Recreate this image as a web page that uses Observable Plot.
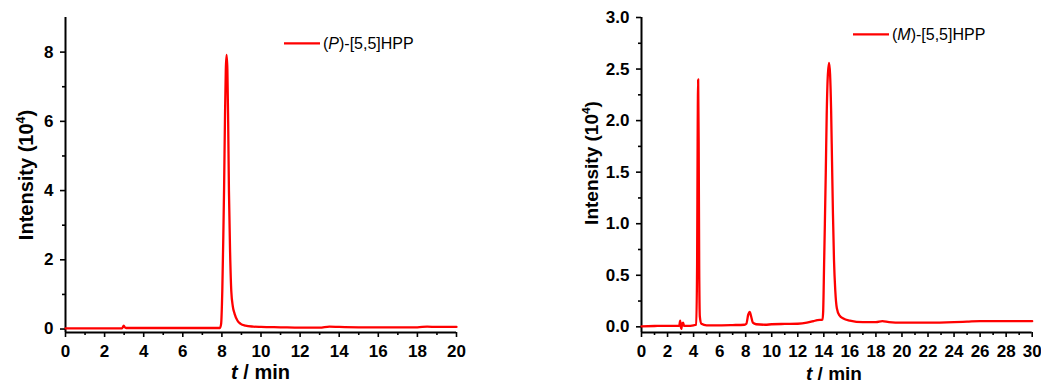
<!DOCTYPE html>
<html>
<head>
<meta charset="utf-8">
<script src="https://cdn.jsdelivr.net/npm/d3@7"></script>
<script src="https://cdn.jsdelivr.net/npm/@observablehq/plot@0.6"></script>
<style>
  body { margin: 0; background: #fff; }
  #wrap { position: relative; width: 1041px; height: 383px; }
  #wrap svg { position: absolute; top: 0; }
</style>
</head>
<body>
<div id="wrap"></div>
<script>
// (P)-[5,5]HPP chromatogram: retention time (min) and intensity (10^4)
const pTime = [0, 1, 2, 2.9, 2.98, 3.03, 3.1, 4, 5, 6, 7, 7.9, 7.96, 8.02, 8.07, 8.11, 8.16, 8.2, 8.24, 8.28, 8.32, 8.36, 8.42, 8.48, 8.56, 8.65, 8.8, 8.96, 9.2, 9.6, 10, 11, 12, 13, 13.5, 14, 15, 16, 17, 18, 18.5, 19, 20];
const pIntensity = [0.02, 0.02, 0.02, 0.02, 0.1, 0.05, 0.03, 0.03, 0.03, 0.03, 0.03, 0.03, 0.15, 1.1, 2.6, 4.0, 6.2, 7.5, 7.92, 7.5, 6.0, 4.0, 2.2, 1.1, 0.65, 0.44, 0.24, 0.15, 0.1, 0.07, 0.06, 0.05, 0.04, 0.04, 0.07, 0.06, 0.05, 0.05, 0.05, 0.05, 0.07, 0.06, 0.06];

// (M)-[5,5]HPP chromatogram
const mTime = [0, 1, 2, 2.9, 2.97, 3.02, 3.06, 3.12, 3.2, 3.26, 3.5, 4, 4.2, 4.27, 4.31, 4.35, 4.39, 4.43, 4.48, 4.6, 5, 6, 7, 7.9, 8.05, 8.2, 8.31, 8.42, 8.55, 8.8, 9.5, 10, 11, 12, 12.7, 13.2, 13.5, 13.9, 13.95, 14.02, 14.08, 14.15, 14.22, 14.3, 14.4, 14.48, 14.56, 14.63, 14.7, 14.78, 14.88, 15, 15.2, 15.5, 16, 17, 18, 18.5, 19, 20, 22, 24, 25, 26, 28, 30];
const mIntensity = [0.005, 0.008, 0.01, 0.01, 0.06, 0.0, -0.02, 0.03, 0.04, 0.01, 0.01, 0.015, 0.02, 0.6, 1.8, 2.40, 1.8, 0.6, 0.1, 0.03, 0.015, 0.015, 0.017, 0.02, 0.03, 0.12, 0.145, 0.1, 0.04, 0.025, 0.02, 0.025, 0.028, 0.03, 0.04, 0.055, 0.065, 0.07, 0.15, 0.6, 1.0, 1.5, 2.05, 2.42, 2.56, 2.45, 2.1, 1.6, 1.1, 0.65, 0.35, 0.18, 0.11, 0.08, 0.06, 0.045, 0.045, 0.055, 0.045, 0.04, 0.04, 0.045, 0.05, 0.055, 0.055, 0.055];

// Axis ticks
const pXTicks = [0, 2, 4, 6, 8, 10, 12, 14, 16, 18, 20];
const pXMinor = [1, 3, 5, 7, 9, 11, 13, 15, 17, 19];
const pYTicks = [0, 2, 4, 6, 8];
const pYMinor = [1, 3, 5, 7];
const mXTicks = [0, 2, 4, 6, 8, 10, 12, 14, 16, 18, 20, 22, 24, 26, 28, 30];
const mXMinor = [1, 3, 5, 7, 9, 11, 13, 15, 17, 19, 21, 23, 25, 27, 29];
const mYTicks = [0, 0.5, 1.0, 1.5, 2.0, 2.5, 3.0];
const mYMinor = [0.25, 0.75, 1.25, 1.75, 2.25, 2.75];

const FONT = "'Liberation Sans', Arial, Helvetica, sans-serif";
const RED = "#ff0000";

function chromatogram(o) {
  const rows = o.time.map((t, i) => ({t, v: o.intensity[i]}));
  const tickText = {fontFamily: FONT, fontSize: 17, fontWeight: "bold", fill: "#000"};
  const svg = Plot.plot({
    width: o.width,
    height: 383,
    marginTop: 17,
    marginBottom: 51,
    marginLeft: o.marginLeft,
    marginRight: o.marginRight,
    x: {domain: o.xDomain},
    y: {domain: o.yDomain},
    style: {fontFamily: FONT, color: "#000", background: "transparent", overflow: "visible"},
    marks: [
      Plot.axisX(o.xTicks, {...tickText, tickSize: 5, tickPadding: 7, strokeWidth: 1.6, stroke: "#000", label: null}),
      Plot.axisX(o.xMinor, {tickSize: 3, strokeWidth: 1.6, stroke: "#000", tickFormat: () => "", label: null}),
      Plot.axisY(o.yTicks, {...tickText, tickSize: 5, tickPadding: 7, strokeWidth: 1.6, stroke: "#000", tickFormat: o.yFormat, label: null}),
      Plot.axisY(o.yMinor, {tickSize: 3, strokeWidth: 1.6, stroke: "#000", tickFormat: () => "", label: null}),
      Plot.ruleY([o.yDomain[0]], {stroke: "#000", strokeWidth: 2}),
      Plot.ruleX([o.xDomain[0]], {stroke: "#000", strokeWidth: 2}),
      Plot.line(rows, {x: "t", y: "v", stroke: RED, strokeWidth: 2.3, curve: "monotone-x"})
    ]
  });
  svg.style.left = o.left + "px";
  const s = d3.select(svg);

  // y-axis title with superscript exponent
  const yt = s.append("text")
    .attr("transform", `translate(${o.yTitle[0]},${o.yTitle[1]}) rotate(-90)`)
    .attr("text-anchor", "middle")
    .style("font-family", FONT).style("font-weight", "bold").style("font-size", o.titleSize + "px")
    .attr("fill", "#000");
  yt.append("tspan").text("Intensity (10");
  yt.append("tspan").style("font-size", (o.titleSize * 0.62) + "px").attr("dy", -o.titleSize * 0.42).text("4");
  yt.append("tspan").attr("dy", o.titleSize * 0.42).text(")");

  // x-axis title
  const xt = s.append("text")
    .attr("x", o.xTitle[0]).attr("y", o.xTitle[1])
    .attr("text-anchor", "middle")
    .style("font-family", FONT).style("font-weight", "bold").style("font-size", o.titleSize + "px")
    .attr("fill", "#000");
  xt.append("tspan").style("font-style", "italic").text("t");
  xt.append("tspan").text(" / min");

  // legend
  const [lx, ly] = o.legendAt;
  s.append("line").attr("x1", lx).attr("x2", lx + 36).attr("y1", ly).attr("y2", ly)
    .attr("stroke", RED).attr("stroke-width", 2.3);
  const lt = s.append("text")
    .attr("x", lx + 39).attr("y", ly + 6)
    .attr("text-anchor", "start")
    .style("font-family", FONT).style("font-weight", "normal").style("font-size", "16px")
    .attr("fill", "#000");
  lt.append("tspan").text("(");
  lt.append("tspan").style("font-style", "italic").text(o.isomer);
  lt.append("tspan").text(")-[5,5]HPP");

  document.getElementById("wrap").appendChild(svg);
}

chromatogram({
  time: pTime, intensity: pIntensity,
  xDomain: [0, 20], yDomain: [-0.1, 9],
  xTicks: pXTicks, xMinor: pXMinor, yTicks: pYTicks, yMinor: pYMinor,
  yFormat: d3.format("d"),
  width: 470, left: 0, marginLeft: 65, marginRight: 14,
  titleSize: 20, yTitle: [33, 175], xTitle: [260.5, 379],
  legendAt: [284, 43.3], isomer: "P"
});

chromatogram({
  time: mTime, intensity: mIntensity,
  xDomain: [0, 30], yDomain: [-0.055, 3.0],
  xTicks: mXTicks, xMinor: mXMinor, yTicks: mYTicks, yMinor: mYMinor,
  yFormat: d3.format(".1f"),
  width: 471, left: 570, marginLeft: 71, marginRight: 9.3,
  titleSize: 19, yTitle: [28, 163], xTitle: [264, 380],
  legendAt: [283, 34.3], isomer: "M"
});
</script>
</body>
</html>
